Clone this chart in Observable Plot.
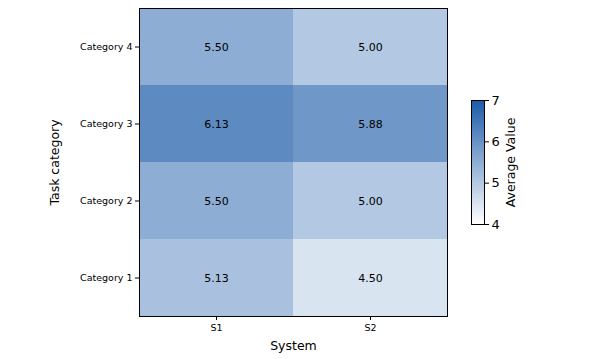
<!DOCTYPE html>
<html>
<head>
<meta charset="utf-8">
<script src="https://cdn.jsdelivr.net/npm/d3@7"></script>
<script src="https://cdn.jsdelivr.net/npm/@observablehq/plot@0.6"></script>
<style>
  html, body { margin: 0; padding: 0; background: #fff; }
  #wrap { position: relative; width: 600px; height: 359px; font-family: "DejaVu Sans", sans-serif; }
  #bar { position: absolute; left: 460px; top: 90px; width: 100px; }
  #main { position: absolute; left: 0; top: 0; }
</style>
</head>
<body>
<div id="wrap"><div id="main"></div><div id="bar"></div></div>
<script>
const systems = ["S1", "S2"];
const categories = ["Category 1", "Category 2", "Category 3", "Category 4"];
const valuesS1 = [5.13, 5.50, 6.13, 5.50];
const valuesS2 = [4.50, 5.00, 5.88, 5.00];
const colorTicks = [4, 5, 6, 7];

const cells = [];
categories.forEach((c, i) => {
  cells.push({system: "S1", category: c, value: valuesS1[i]});
  cells.push({system: "S2", category: c, value: valuesS2[i]});
});

const colorScale = {type: "linear", domain: [4, 7], range: ["#ffffff", "#1a5aa8"], interpolate: "rgb"};
const font = "DejaVu Sans, sans-serif";

const main = Plot.plot({
  width: 600, height: 359,
  marginLeft: 139, marginRight: 153, marginTop: 8, marginBottom: 43,
  style: {fontFamily: font, background: "white", color: "black"},
  x: {domain: systems, padding: 0, label: null},
  y: {domain: categories.slice().reverse(), padding: 0, label: null},
  color: colorScale,
  marks: [
    Plot.cell(cells, {x: "system", y: "category", fill: "value", inset: 0}),
    Plot.text(cells, {x: "system", y: "category", text: d => d.value.toFixed(2), fontSize: 11, fill: "black"}),
    Plot.frame({stroke: "black", strokeWidth: 1}),
    Plot.axisX({tickSize: 4, tickPadding: 4, fontSize: 9.5, label: "System", labelAnchor: "center", labelArrow: "none", labelOffset: 33}),
    Plot.axisY({tickSize: 4, tickPadding: 3, fontSize: 9.5, label: "Task category", labelAnchor: "center", labelArrow: "none", labelOffset: 89})
  ]
});
main.querySelectorAll("[aria-label='x-axis label'] text, [aria-label='y-axis label'] text").forEach(t => t.style.fontSize = "12.5px");
document.getElementById("main").appendChild(main);

const steps = d3.range(4, 7, 0.01).map(v => ({lo: v, hi: v + 0.01}));
const bar = Plot.plot({
  width: 100, height: 145,
  marginLeft: 11, marginRight: 76, marginTop: 10, marginBottom: 11,
  style: {fontFamily: font, background: "transparent", color: "black", fontSize: "13px"},
  x: {axis: null, domain: [0, 1]},
  y: {domain: [4, 7], label: null},
  color: colorScale,
  marks: [
    Plot.rect(steps, {x1: 0, x2: 1, y1: "lo", y2: "hi", fill: "lo", shapeRendering: "crispEdges"}),
    Plot.frame({stroke: "black", strokeWidth: 1}),
    Plot.axisY({anchor: "right", ticks: colorTicks, tickFormat: d3.format("d"), tickSize: 4, tickPadding: 3, fontSize: 13,
      label: "Average Value", labelAnchor: "center", labelArrow: "none", labelOffset: 30})
  ]
});
bar.querySelectorAll("text").forEach(t => t.style.fontSize = "13px");
bar.querySelectorAll("[aria-label='y-axis label'] text").forEach(t => t.style.fontSize = "12.5px");
document.getElementById("bar").appendChild(bar);
</script>
</body>
</html>
